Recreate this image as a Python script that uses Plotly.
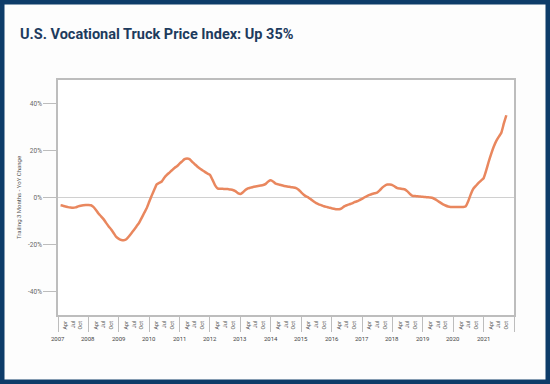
import plotly.graph_objects as go
import pandas as pd

# ---- data (trailing 3 months, YoY % change), monthly from Feb 2007 to Oct 2021 ----
start_month = "2007-02-01"
end_month = "2021-10-01"
values = [
    # 2007 (Feb-Dec)
    -3.3, -3.5, -3.8, -4.1, -4.3, -4.4, -4.2, -3.8, -3.5, -3.3, -3.2,
    # 2008
    -3.2, -3.3, -4.0, -5.3, -6.8, -8.0, -9.2, -10.8, -12.3, -13.6, -15.2, -16.8,
    # 2009
    -17.6, -18.1, -18.2, -17.8, -16.6, -15.2, -13.8, -12.3, -10.8, -8.8, -6.6, -4.6,
    # 2010
    -1.8, 0.9, 3.2, 5.6, 6.2, 6.8, 8.4, 9.6, 10.6, 11.6, 12.6, 13.3,
    # 2011
    14.4, 15.4, 16.3, 16.6, 16.3, 15.2, 14.2, 13.2, 12.3, 11.6, 10.9, 10.2,
    # 2012
    9.6, 7.5, 5.3, 3.9, 3.7, 3.7, 3.6, 3.6, 3.4, 3.2, 2.7, 1.9,
    # 2013
    1.5, 2.2, 3.2, 3.9, 4.2, 4.5, 4.7, 4.9, 5.1, 5.3, 5.8, 6.8,
    # 2014
    7.3, 6.7, 5.9, 5.6, 5.3, 5.0, 4.8, 4.6, 4.4, 4.3, 4.0, 3.3,
    # 2015
    2.2, 1.2, 0.5, -0.1, -0.9, -1.7, -2.4, -2.9, -3.3, -3.7, -4.0, -4.3,
    # 2016
    -4.6, -4.8, -5.0, -5.0, -4.6, -3.8, -3.3, -2.9, -2.5, -2.0, -1.6, -1.1,
    # 2017
    -0.6, 0.1, 0.6, 1.1, 1.5, 1.8, 2.1, 3.0, 4.2, 5.0, 5.5, 5.5,
    # 2018
    5.3, 4.6, 4.0, 3.8, 3.6, 3.4, 2.6, 1.5, 0.7, 0.6, 0.5, 0.4,
    # 2019
    0.3, 0.2, 0.1, 0.0, -0.2, -0.8, -1.5, -2.2, -2.9, -3.4, -3.8, -4.0,
    # 2020
    -4.0, -4.0, -4.0, -4.0, -4.0, -3.7, -1.5, 1.5, 3.8, 5.0, 6.2, 7.2,
    # 2021 (Jan-Oct)
    8.2, 11.5, 15.0, 18.5, 21.5, 24.0, 25.8, 27.5, 31.5, 35.0,
]
years = list(range(2007, 2022))
month_labels = ["Apr", "Jul", "Oct"]
month_numbers = [4, 7, 10]
y_ticks = [-40, -20, 0, 20, 40]
y_tick_labels = ["-40%", "-20%", "0%", "20%", "40%"]
title_text = "U.S. Vocational Truck Price Index: Up 35%"
y_title = "Trailing 3 Months - YoY Change"

# ---- build dates ----
dates = pd.date_range(start_month, end_month, freq="MS")
assert len(dates) == len(values)

W, H = 550, 384
ML, MR, MT, MB = 58, 36, 80, 69
PW, PH = W - ML - MR, H - MT - MB

month_tickvals = [f"{y}-{m:02d}-01" for y in years for m in month_numbers]
month_ticktext = [lab for y in years for lab in month_labels]
year_starts = [f"{y}-01-01" for y in years] + [f"{years[-1] + 1}-01-01"]

fig = go.Figure()
fig.add_trace(go.Scatter(
    x=dates, y=values, mode="lines",
    line=dict(color="#E9875E", width=2.5, shape="spline", smoothing=0.4),
    showlegend=False, hoverinfo="skip",
))

axis_gray = "#bdbdbd"
fig.update_layout(
    width=W, height=H,
    margin=dict(l=ML, r=MR, t=MT, b=MB, autoexpand=False),
    paper_bgcolor="#fdfdfd", plot_bgcolor="#ffffff",
    font=dict(family="Roboto, Arial, sans-serif", color="#555555"),
    title=dict(
        text=f"<b>{title_text}</b>", x=20 / W, xanchor="left", xref="container",
        y=1 - 34 / H, yanchor="middle", yref="container",
        font=dict(size=14.5, color="#1d3b5e", family="Roboto, Arial, sans-serif"),
    ),
    xaxis=dict(
        type="date", automargin=False,
        range=[year_starts[0], year_starts[-1]],
        tickmode="array", tickvals=month_tickvals, ticktext=month_ticktext,
        tickangle=-90, tickfont=dict(size=5.5, color="#555555"),
        ticks="outside", ticklen=2, tickcolor="rgba(0,0,0,0)",
        showgrid=False, showline=True, linecolor=axis_gray, linewidth=1.5,
        mirror=True, zeroline=False,
        minor=dict(tickmode="array", tickvals=year_starts, ticks="outside",
                   ticklen=15, tickcolor=axis_gray, tickwidth=1, showgrid=False),
    ),
    yaxis=dict(
        automargin=False,
        range=[-50, 50], tickmode="array", tickvals=y_ticks, ticktext=y_tick_labels,
        tickfont=dict(size=6.5, color="#666666"),
        ticks="outside", ticklen=13, tickcolor=axis_gray, tickwidth=1,
        showgrid=False, showline=True, linecolor=axis_gray, linewidth=1.5,
        mirror=True, zeroline=True, zerolinecolor="#d0d0d0", zerolinewidth=1,
        title=dict(text=y_title, font=dict(size=6, color="#555555"), standoff=6),
    ),
)

# year labels centred on each year's start
for y in years:
    fig.add_annotation(
        x=f"{y}-01-01", xref="x", y=-(338 - (MT + PH)) / PH, yref="paper",
        text=str(y), showarrow=False, font=dict(size=6, color="#444444"),
        xanchor="center", yanchor="middle",
    )

# navy frame round the whole picture
fig.add_shape(
    type="rect", xref="paper", yref="paper",
    x0=-ML / PW, x1=1 + MR / PW, y0=-MB / PH, y1=1 + MT / PH,
    line=dict(color="#0e3c69", width=9), fillcolor="rgba(0,0,0,0)", layer="above",
)

fig.write_html(
    "out.html",
    config={"displayModeBar": False},
    post_script="document.body.style.margin='0';document.body.style.overflow='hidden';",
)
